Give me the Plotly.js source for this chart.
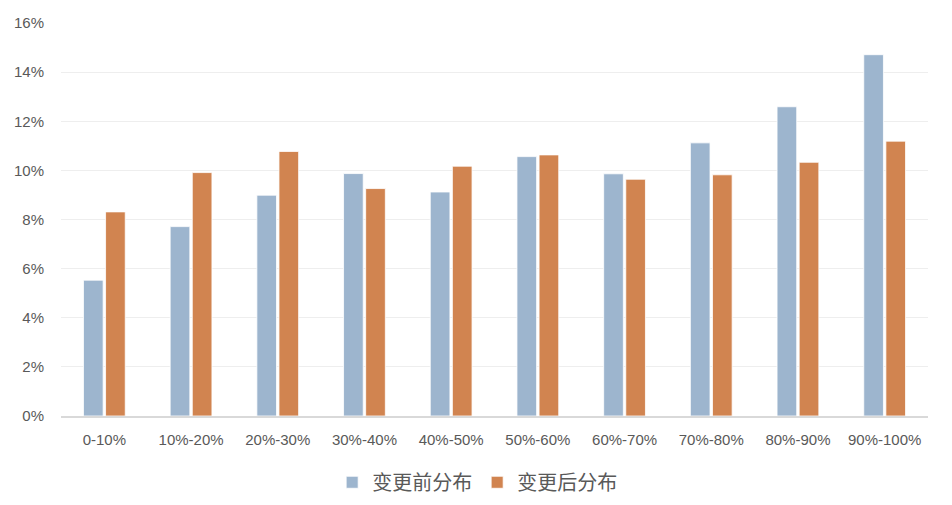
<!DOCTYPE html>
<html>
<head>
<meta charset="utf-8">
<script src="https://cdn.plot.ly/plotly-3.0.1.min.js"></script>
<style>
  html, body { margin: 0; padding: 0; background: #ffffff; }
  #chart { width: 952px; height: 505px; }
</style>
</head>
<body>
<div id="chart"></div>
<script>
// ─── Data ─────────────────────────────────────────────────────────────────────
const categories = ['0-10%', '10%-20%', '20%-30%', '30%-40%', '40%-50%',
                    '50%-60%', '60%-70%', '70%-80%', '80%-90%', '90%-100%'];
const beforeValues = [5.53, 7.71, 8.99, 9.87, 9.12, 10.56, 9.86, 11.12, 12.59, 14.71];
const afterValues  = [8.31, 9.91, 10.77, 9.26, 10.17, 10.63, 9.64, 9.82, 10.33, 11.19];
const yTicks = [0, 2, 4, 6, 8, 10, 12, 14, 16];

const tickFont = { family: '"Liberation Sans", Arial, sans-serif', size: 15, color: '#595959' };

// ─── Traces ───────────────────────────────────────────────────────────────────
const traces = [
    {
        type: 'bar', x: categories, y: beforeValues, name: '变更前分布',
        marker: { color: '#9db5ce', line: { color: '#ffffff', width: 0.8 } },
        hoverinfo: 'x+y',
    },
    {
        type: 'bar', x: categories, y: afterValues, name: '变更后分布',
        marker: { color: '#d18450', line: { color: '#ffffff', width: 0.8 } },
        hoverinfo: 'x+y',
    },
];

// ─── Layout ───────────────────────────────────────────────────────────────────
const layout = {
    width: 952, height: 505,
    paper_bgcolor: '#ffffff', plot_bgcolor: '#ffffff',
    margin: { l: 61, r: 24, t: 23, b: 89 },
    barmode: 'group', bargap: 0.49, bargroupgap: 0.11,
    showlegend: true,
    legend: {
        orientation: 'h', x: 0.48, xanchor: 'center',
        yref: 'container', y: 0.045, yanchor: 'middle',
        font: { family: '"Noto Sans CJK SC", sans-serif', size: 20, color: '#595959' },
        itemwidth: 30, traceorder: 'normal',
    },
    xaxis: {
        type: 'category', automargin: false,
        showline: true, linecolor: '#d9d9d9', linewidth: 1.5,
        showgrid: false, zeroline: false,
        ticks: 'outside', ticklen: 9, tickcolor: 'rgba(0,0,0,0)',
        tickfont: tickFont,
    },
    yaxis: {
        range: [0, 16], tickvals: yTicks, ticktext: yTicks.map(v => v + '%'),
        automargin: false,
        showgrid: true, gridcolor: '#eeeeee', gridwidth: 1.2,
        zeroline: false, showline: false,
        ticks: 'outside', ticklen: 13, tickcolor: 'rgba(0,0,0,0)',
        tickfont: tickFont,
    },
};

Plotly.newPlot('chart', traces, layout, { displayModeBar: false, staticPlot: true });
</script>
</body>
</html>
